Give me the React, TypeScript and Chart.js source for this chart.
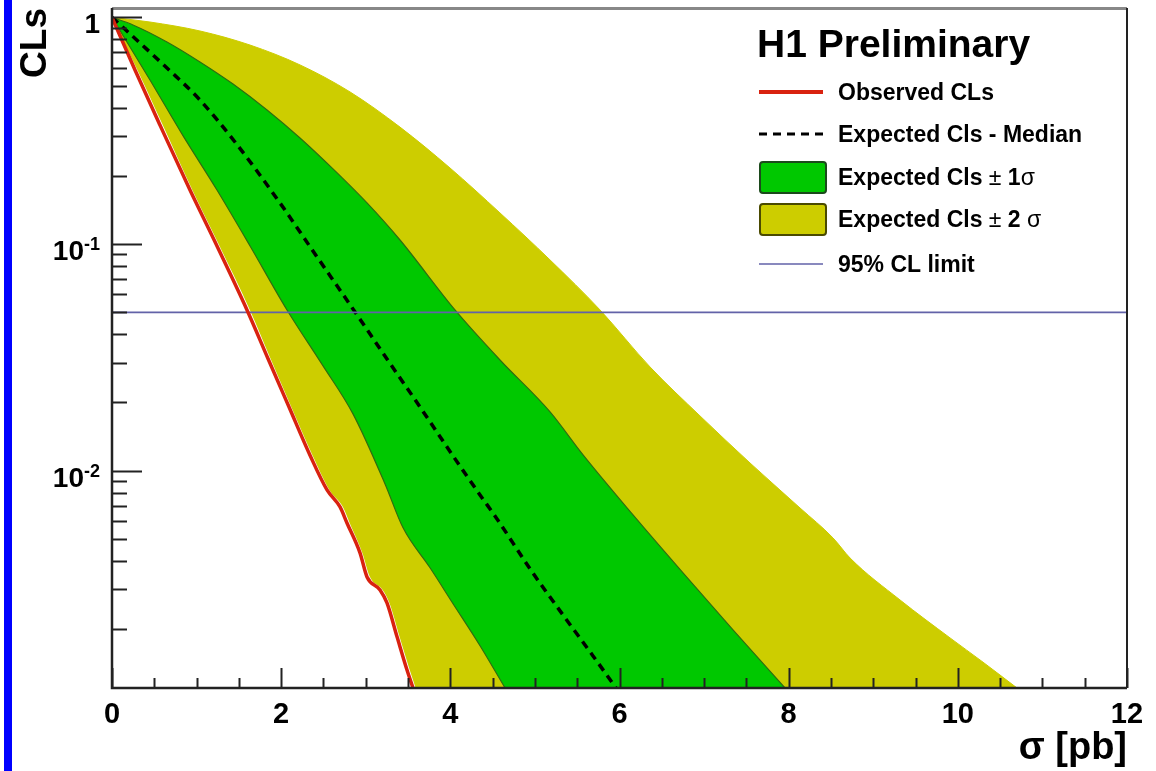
import React, { useEffect, useRef } from 'react';
import { Chart, registerables } from 'chart.js';

Chart.register(...registerables);

const FONT = '"Liberation Sans", Arial, Helvetica, sans-serif';

// ---- data: [sigma (pb), CLs] ----
const observedCLs: [number, number][] = [
  [0, 1], [0.272, 0.586], [0.567, 0.335], [0.922, 0.173], [1.23, 0.1], [1.596, 0.0512],
  [1.845, 0.0312], [2.093, 0.0191], [2.341, 0.0117], [2.542, 0.00823], [2.696, 0.00692],
  [2.778, 0.00588], [2.932, 0.00434], [3.015, 0.0034], [3.169, 0.00298], [3.251, 0.00261],
  [3.37, 0.00185], [3.488, 0.00132], [3.559, 0.0011],
];
const expectedMinus2: [number, number][] = [
  [0, 1], [0.3, 0.586], [0.6, 0.335], [0.95, 0.173], [1.26, 0.1], [1.63, 0.0512],
  [1.875, 0.0312], [2.12, 0.0191], [2.37, 0.0117], [2.57, 0.00823], [2.73, 0.00692],
  [2.81, 0.00588], [2.96, 0.00434], [3.05, 0.0034], [3.2, 0.00298], [3.28, 0.00261],
  [3.4, 0.00185], [3.52, 0.00132], [3.59, 0.0011],
];
const expectedMinus1: [number, number][] = [
  [0, 1], [0.449, 0.5295], [0.839, 0.3008], [1.241, 0.1732], [1.632, 0.0981], [2.069, 0.0512],
  [2.495, 0.029], [2.849, 0.01781], [3.228, 0.00874], [3.441, 0.0056], [3.76, 0.00373],
  [4.032, 0.00259], [4.351, 0.00169], [4.647, 0.0011],
];
const expectedMedian: [number, number][] = [
  [0, 1], [0.331, 0.771], [0.65, 0.598], [1.04, 0.432], [1.454, 0.282], [1.986, 0.1518],
  [2.376, 0.0932], [2.873, 0.0502], [3.251, 0.0311], [3.642, 0.0191], [4.032, 0.01162],
  [4.351, 0.00782], [4.552, 0.00613], [4.942, 0.00369], [5.332, 0.00231], [5.687, 0.001524],
  [5.959, 0.0011],
];
const expectedPlus1: [number, number][] = [
  [0, 1], [0.248, 0.926], [0.65, 0.779], [1.04, 0.636], [1.431, 0.508], [1.833, 0.3904],
  [2.223, 0.2938], [2.613, 0.2145], [3.015, 0.1518], [3.405, 0.1042], [4.055, 0.0512],
  [4.587, 0.0308], [5.179, 0.01817], [5.569, 0.01174], [6.16, 0.00638], [6.751, 0.00354],
  [7.342, 0.001985], [7.957, 0.0011],
];
const expectedPlus2: [number, number][] = [
  [0, 1], [0.449, 0.954], [1.04, 0.871], [1.632, 0.755], [2.223, 0.617], [2.814, 0.469],
  [3.405, 0.328], [3.996, 0.2166], [4.587, 0.1372], [5.179, 0.0851], [5.77, 0.0512],
  [6.361, 0.0287], [6.952, 0.01745], [7.543, 0.01082], [8.134, 0.00685], [8.525, 0.00505],
  [8.726, 0.00412], [9.317, 0.00269], [9.908, 0.00183], [10.298, 0.00143], [10.7, 0.0011],
];
const clLimit: [number, number][] = [[0, 0.05], [12, 0.05]];

const xRange = [0, 12];
const yRange = [0.0011, 1.1];
const xMajorTicks = [0, 2, 4, 6, 8, 10, 12];
const xMinorStep = 0.5;
const yMajorTicks = [1, 0.1, 0.01];
const yTickBase = ['1', '10', '10'];
const yTickExp = ['', '-1', '-2'];
const legendTitle = 'H1 Preliminary';
const legendLabels = [
  'Observed CLs',
  'Expected Cls - Median',
  'Expected Cls \u00B1 1\u03C3',
  'Expected Cls \u00B1 2 \u03C3',
  '95% CL limit',
];
const xTitle = '\u03C3 [pb]';
const yTitle = 'CLs';

const YELLOW = '#CDCD00';
const GREEN = '#00C800';
const RED = '#D92210';
const BLUE = '#6262A8';
const EDGE = '#2E6E10';

const pts = (a: [number, number][]) => a.map(([x, y]) => ({ x, y }));

function drawMixed(ctx: CanvasRenderingContext2D, text: string, x: number, y: number, size: number) {
  let cx = x;
  let buf = '';
  const flush = () => {
    if (!buf) return;
    ctx.font = `bold ${size}px ${FONT}`;
    ctx.fillText(buf, cx, y);
    cx += ctx.measureText(buf).width;
    buf = '';
  };
  for (const ch of text) {
    if (ch === '\u00B1' || ch === '\u03C3') {
      flush();
      ctx.font = `${size}px ${FONT}`;
      ctx.fillText(ch, cx, y);
      cx += ctx.measureText(ch).width;
    } else buf += ch;
  }
  flush();
}

const decorPlugin = {
  id: 'rootDecor',
  afterDraw(chart: any) {
    const ctx: CanvasRenderingContext2D = chart.ctx;
    const xs = chart.scales.x;
    const ys = chart.scales.y;
    const { left, right, top, bottom } = chart.chartArea;
    ctx.save();
    // ticks
    ctx.strokeStyle = '#222';
    ctx.lineWidth = 2;
    ctx.beginPath();
    for (let v = xRange[0]; v <= xRange[1] + 1e-9; v += xMinorStep) {
      const px = Math.round(xs.getPixelForValue(v)) + 0.5;
      const major = xMajorTicks.some((m) => Math.abs(m - v) < 1e-9);
      ctx.moveTo(px, bottom);
      ctx.lineTo(px, bottom - (major ? 20 : 10));
    }
    for (let e = -3; e <= 0; e++) {
      for (let k = 1; k <= 9; k++) {
        const v = k * Math.pow(10, e);
        if (v < yRange[0] || v > yRange[1]) continue;
        const py = Math.round(ys.getPixelForValue(v)) + 0.5;
        ctx.moveTo(left, py);
        ctx.lineTo(left + (k === 1 ? 30 : 15), py);
      }
    }
    ctx.stroke();
    // frame
    ctx.strokeStyle = '#888';
    ctx.lineWidth = 3;
    ctx.beginPath();
    ctx.moveTo(left, top + 0.5);
    ctx.lineTo(right, top + 0.5);
    ctx.stroke();
    ctx.strokeStyle = '#222';
    ctx.lineWidth = 2;
    ctx.beginPath();
    ctx.moveTo(right, top);
    ctx.lineTo(right, bottom);
    ctx.stroke();
    ctx.lineWidth = 2.5;
    ctx.beginPath();
    ctx.moveTo(left, top);
    ctx.lineTo(left, bottom);
    ctx.lineTo(right, bottom);
    ctx.stroke();

    // y tick labels
    ctx.fillStyle = '#000';
    ctx.textBaseline = 'alphabetic';
    ctx.textAlign = 'left';
    yMajorTicks.forEach((v, i) => {
      const py = ys.getPixelForValue(v);
      ctx.font = `bold 28px ${FONT}`;
      const wb = ctx.measureText(yTickBase[i]).width;
      ctx.font = `bold 18px ${FONT}`;
      const we = yTickExp[i] ? ctx.measureText(yTickExp[i]).width : 0;
      const x0 = 100 - we - wb;
      ctx.font = `bold 28px ${FONT}`;
      ctx.fillText(yTickBase[i], x0, py + 16);
      if (yTickExp[i]) {
        ctx.font = `bold 18px ${FONT}`;
        ctx.fillText(yTickExp[i], x0 + wb, py + 6);
      }
    });

    // legend
    ctx.font = `bold 39px ${FONT}`;
    ctx.fillText(legendTitle, 757, 57);
    const rows = [92, 134, 177, 219, 264];
    const sx0 = 759;
    const sx1 = 825;
    legendLabels.forEach((lab, i) => {
      const cy = rows[i];
      ctx.save();
      if (i === 0) {
        ctx.strokeStyle = RED; ctx.lineWidth = 4;
        ctx.beginPath(); ctx.moveTo(sx0, cy); ctx.lineTo(sx1 - 2, cy); ctx.stroke();
      } else if (i === 1) {
        ctx.strokeStyle = '#000'; ctx.lineWidth = 3; ctx.setLineDash([8, 6]);
        ctx.beginPath(); ctx.moveTo(sx0, cy); ctx.lineTo(sx1, cy); ctx.stroke();
      } else if (i === 2 || i === 3) {
        ctx.fillStyle = i === 2 ? GREEN : YELLOW;
        ctx.strokeStyle = i === 2 ? '#1c4a1c' : '#4a4a00';
        ctx.lineWidth = 2;
        ctx.beginPath();
        (ctx as any).roundRect ? (ctx as any).roundRect(sx0 + 1, cy - 15, sx1 - sx0, 31, 3) : ctx.rect(sx0 + 1, cy - 15, sx1 - sx0, 31);
        ctx.fill(); ctx.stroke();
      } else {
        ctx.strokeStyle = BLUE; ctx.lineWidth = 1.5;
        ctx.beginPath(); ctx.moveTo(sx0, cy); ctx.lineTo(sx1 - 2, cy); ctx.stroke();
      }
      ctx.restore();
      ctx.fillStyle = '#000';
      drawMixed(ctx, lab, 838, cy + 8, 23);
    });
    ctx.restore();
  },
};

export default function App() {
  const ref = useRef<HTMLCanvasElement | null>(null);
  useEffect(() => {
    if (!ref.current) return;
    const common = { pointRadius: 0, pointHoverRadius: 0, cubicInterpolationMode: 'monotone' as const, clip: 0 };
    const chart = new Chart(ref.current, {
      type: 'line',
      data: {
        datasets: [
          { ...common, label: legendLabels[0], data: pts(observedCLs), borderColor: RED, borderWidth: 3.5, fill: false, order: 0 },
          { ...common, label: legendLabels[4], data: pts(clLimit), borderColor: BLUE, borderWidth: 1.8, fill: false, order: 1 },
          { ...common, label: legendLabels[1], data: pts(expectedMedian), borderColor: '#000', borderWidth: 3.5, borderDash: [8, 6], fill: false, order: 2 },
          { ...common, label: '-2 sigma', data: pts(expectedMinus2), borderColor: 'rgba(0,0,0,0)', borderWidth: 0, backgroundColor: '#ffffff', fill: 'start', order: 3 },
          { ...common, label: '-1 sigma', data: pts(expectedMinus1), borderColor: EDGE, borderWidth: 1.2, backgroundColor: YELLOW, fill: 'start', order: 4 },
          { ...common, label: '+1 sigma', data: pts(expectedPlus1), borderColor: EDGE, borderWidth: 1.2, backgroundColor: GREEN, fill: 'start', order: 5 },
          { ...common, label: '+2 sigma', data: pts(expectedPlus2), borderColor: YELLOW, borderWidth: 1, backgroundColor: YELLOW, fill: 'start', order: 6 },
        ] as any,
      },
      options: {
        animation: false,
        responsive: false,
        devicePixelRatio: 1,
        layout: { padding: { left: 0, right: 29, top: 8, bottom: 0 } },
        plugins: { legend: { display: false }, tooltip: { enabled: false } },
        events: [],
        scales: {
          x: {
            type: 'linear',
            min: xRange[0],
            max: xRange[1],
            afterFit: (s: any) => { s.height = 83; },
            grid: { display: false, drawTicks: false },
            border: { display: false },
            ticks: { stepSize: 2, autoSkip: false, maxRotation: 0, color: '#000', padding: 10, font: { family: FONT, size: 29, weight: 'bold' } },
            title: { display: true, text: xTitle, align: 'end', color: '#000', padding: { top: 2, bottom: 0 }, font: { family: FONT, size: 38, weight: 'bold' } },
          },
          y: {
            type: 'logarithmic',
            min: yRange[0],
            max: yRange[1],
            afterFit: (s: any) => { s.width = 112; },
            grid: { display: false, drawTicks: false },
            border: { display: false },
            ticks: { display: false },
            title: { display: true, text: yTitle, align: 'end', color: '#000', padding: { top: 14, bottom: 0 }, font: { family: FONT, size: 37, weight: 'bold' } },
          },
        },
      } as any,
      plugins: [decorPlugin],
    });
    return () => chart.destroy();
  }, []);
  return (
    <div style={{ position: 'absolute', left: 0, top: 0, width: 1156, height: 771, background: '#fff', overflow: 'hidden' }}>
      <div style={{ position: 'absolute', left: 4, top: 0, width: 8, height: 771, background: '#0000FF' }} />
      <canvas ref={ref} width={1156} height={771} style={{ display: 'block', width: 1156, height: 771 }} />
    </div>
  );
}
